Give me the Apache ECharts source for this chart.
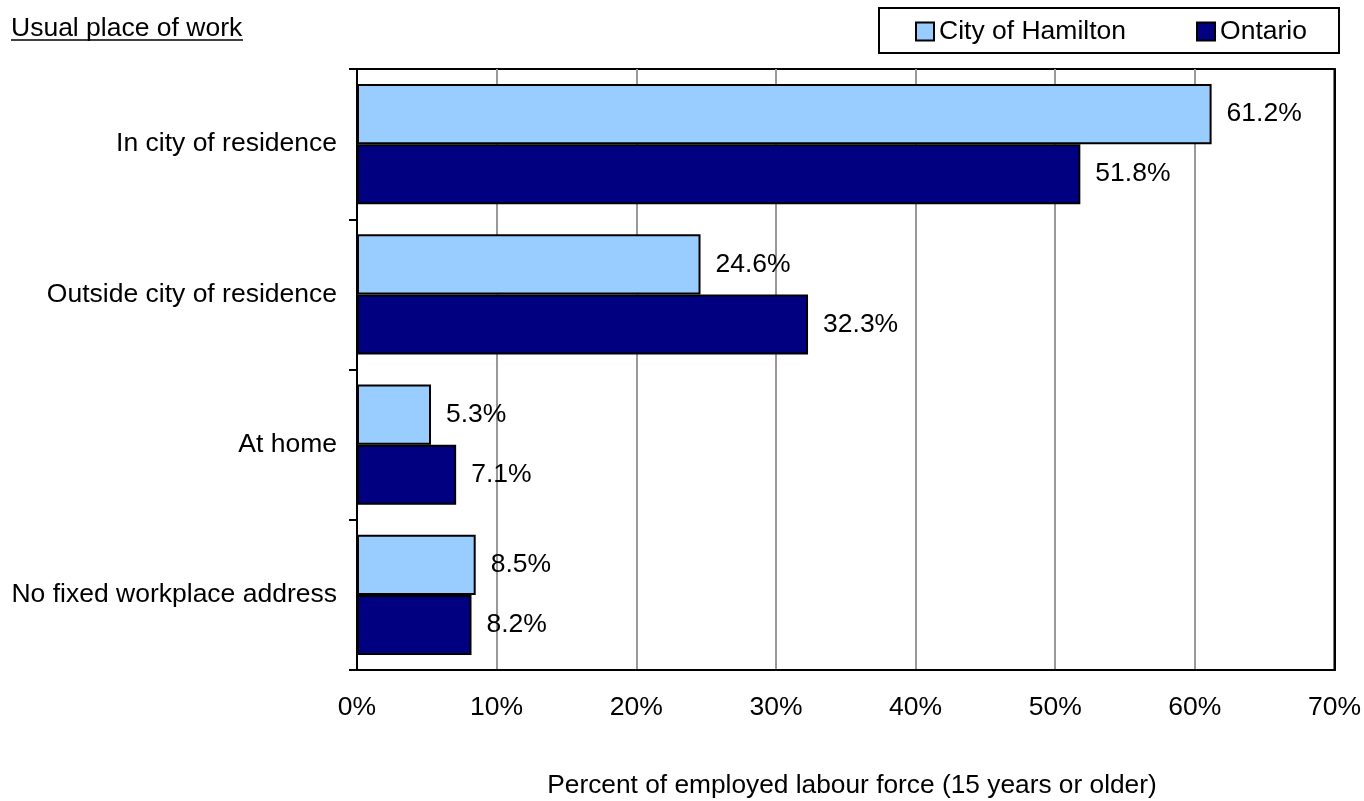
<!DOCTYPE html>
<html>
<head>
<meta charset="utf-8">
<script src="https://cdn.jsdelivr.net/npm/echarts@6/dist/echarts.min.js"></script>
<style>
html,body{margin:0;padding:0;background:#fff;}
#main{width:1364px;height:801px;}
</style>
</head>
<body>
<div id="main"></div>
<script>
// categories, top to bottom
var categories = ['In city of residence', 'Outside city of residence', 'At home', 'No fixed workplace address'];
var seriesNames = ['City of Hamilton', 'Ontario'];
var hamilton = [61.2, 24.6, 5.3, 8.5];
var ontario = [51.8, 32.3, 7.1, 8.2];
var xTicks = [0, 10, 20, 30, 40, 50, 60, 70];

var font = '"Liberation Sans", Arial, sans-serif';
var fs = 26.5;

var labelStyle = {
    show: true,
    position: 'right',
    distance: 15,
    color: '#000',
    fontSize: fs,
    fontFamily: font,
    formatter: '{c}%'
};

var chart = echarts.init(document.getElementById('main'));
chart.setOption({
    backgroundColor: '#fff',
    animation: false,
    textStyle: {fontFamily: font},
    grid: {
        left: 357,
        right: 27,
        top: 69,
        bottom: 131,
        show: true,
        borderColor: '#000',
        borderWidth: 2
    },
    legend: {
        data: seriesNames,
        left: 915,
        top: 18,
        padding: 0,
        icon: 'rect',
        itemWidth: 18,
        itemHeight: 18,
        itemGap: 70,
        textStyle: {fontSize: fs, color: '#000', fontFamily: font},
        itemStyle: {borderColor: '#000', borderWidth: 2}
    },
    graphic: [
        {
            type: 'rect',
            shape: {x: 879, y: 8, width: 460, height: 45},
            style: {fill: 'none', stroke: '#000', lineWidth: 2}
        },
        {
            type: 'text',
            left: 11,
            top: 15,
            style: {text: 'Usual place of work', fontSize: fs, fill: '#000', fontFamily: font}
        },
        {
            type: 'line',
            shape: {x1: 11, y1: 40, x2: 243, y2: 40},
            style: {stroke: '#000', lineWidth: 1.5}
        },
        {
            type: 'text',
            x: 852,
            y: 786,
            style: {
                text: 'Percent of employed labour force (15 years or older)',
                fontSize: 26.3, fill: '#000', fontFamily: font,
                align: 'center', verticalAlign: 'middle'
            }
        }
    ],
    xAxis: {
        type: 'value',
        min: xTicks[0],
        max: xTicks[xTicks.length - 1],
        interval: 10,
        axisLine: {show: true, lineStyle: {color: '#000', width: 2}},
        axisTick: {show: false},
        axisLabel: {
            formatter: '{value}%',
            fontSize: fs,
            color: '#000',
            margin: 24,
            fontFamily: font
        },
        splitLine: {show: true, lineStyle: {color: '#999', width: 2}}
    },
    yAxis: [
        {
            type: 'category',
            data: categories,
            inverse: true,
            axisLine: {show: true, lineStyle: {color: '#000', width: 2}},
            axisTick: {show: true, length: 8, lineStyle: {color: '#000', width: 2}},
            axisLabel: {fontSize: fs, color: '#000', margin: 20, fontFamily: font}
        },
        {
            // right frame line, drawn over the last gridline
            type: 'category',
            data: categories,
            inverse: true,
            position: 'right',
            axisLine: {show: true, lineStyle: {color: '#000', width: 2}},
            axisTick: {show: false},
            axisLabel: {show: false}
        }
    ],
    series: [
        {
            name: seriesNames[0],
            type: 'bar',
            data: hamilton,
            barGap: '0%',
            barCategoryGap: '20%',
            itemStyle: {color: '#99CCFF', borderColor: '#000', borderWidth: 2},
            label: labelStyle
        },
        {
            name: seriesNames[1],
            type: 'bar',
            data: ontario,
            barGap: '0%',
            barCategoryGap: '20%',
            itemStyle: {color: '#000080', borderColor: '#000', borderWidth: 2},
            label: labelStyle
        }
    ]
});
</script>
</body>
</html>
